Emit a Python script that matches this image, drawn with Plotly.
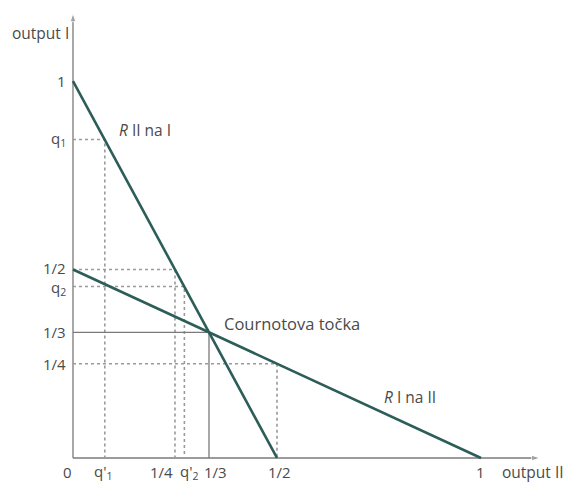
import plotly.graph_objects as go

# ---- data ----
# reaction curves
r2_on_1_x = [0.0, 0.5]    # R II na I : output II vs output I
r2_on_1_y = [1.0, 0.0]
r1_on_2_x = [0.0, 1.0]    # R I na II
r1_on_2_y = [0.5, 0.0]

cournot = 1 / 3
q1, q1p = 0.845, 0.078     # q1 and q'1
q2, q2p = 0.455, 0.273     # q2 and q'2
half, quarter = 0.5, 0.25

# axis extents (arrow tips)
y_axis_top = 1.18
x_axis_end = 1.145

# dotted guide segments
guides = [
    ([0, q1p, q1p], [q1, q1, 0]),
    ([0, quarter, quarter], [half, half, 0]),
    ([0, q2p, q2p], [q2, q2, 0]),
    ([0, half, half], [quarter, quarter, 0]),
]

y_tick_vals = [1, q1, half, q2, cournot, quarter]
y_tick_text = ["1", "q<sub>1</sub>", "1/2", "q<sub>2</sub>", "1/3", "1/4"]
y_tick_shift = [0, 0, 2, -2, 0, 0]
x_tick_vals = [0, q1p, quarter, q2p, cournot, half, 1]
x_tick_text = ["0", "q'<sub>1</sub>", "1/4", "q'<sub>2</sub>", "1/3", "1/2", "1"]
x_tick_shift = [-5, -2, -13, 5, 7, 3, 0]

LINE = "#2d5d58"
GRAY = "#7a7a7a"
DOT = "#9a9a9a"
TXT = "#4a4a4a"
FONT = "Open Sans"

fig = go.Figure()

# axes with arrowheads
for ax_x, ax_y in (([0, 0], [0, y_axis_top]), ([0, x_axis_end], [0, 0])):
    fig.add_trace(go.Scatter(x=ax_x, y=ax_y, mode="lines+markers",
                             line=dict(color=GRAY, width=1.3),
                             marker=dict(symbol=["circle", "arrow"], size=[0, 9],
                                         angleref="previous", color=GRAY),
                             hoverinfo="skip", showlegend=False))

for gx, gy in guides:
    fig.add_trace(go.Scatter(x=gx, y=gy, mode="lines",
                             line=dict(color=DOT, width=1.6, dash="dot"),
                             hoverinfo="skip", showlegend=False))

fig.add_trace(go.Scatter(x=[0, cournot, cournot], y=[cournot, cournot, 0], mode="lines",
                         line=dict(color=GRAY, width=1.3), hoverinfo="skip", showlegend=False))

fig.add_trace(go.Scatter(x=r2_on_1_x, y=r2_on_1_y, mode="lines",
                         line=dict(color=LINE, width=2.6), showlegend=False))
fig.add_trace(go.Scatter(x=r1_on_2_x, y=r1_on_2_y, mode="lines",
                         line=dict(color=LINE, width=2.6), showlegend=False))

ann = []
for v, t, s in zip(y_tick_vals, y_tick_text, y_tick_shift):
    ann.append(dict(x=0, y=v, xref="x", yref="y", text=t, showarrow=False,
                    xanchor="right", yanchor="middle", xshift=-5, yshift=s,
                    font=dict(family=FONT, size=15, color=TXT)))
for v, t, s in zip(x_tick_vals, x_tick_text, x_tick_shift):
    ann.append(dict(x=v, y=0, xref="x", yref="y", text=t, showarrow=False,
                    xanchor="center", yanchor="middle", xshift=s, yshift=-14,
                    font=dict(family=FONT, size=15, color=TXT)))

ann.append(dict(x=0, y=1.127, xref="x", yref="y", text="output I", showarrow=False,
                xanchor="center", xshift=-32, font=dict(family=FONT, size=15.5, color=TXT)))
ann.append(dict(x=1.047, y=0, xref="x", yref="y", text="output II", showarrow=False,
                xanchor="left", yshift=-14, font=dict(family=FONT, size=15.5, color=TXT)))
ann.append(dict(x=0.108, y=0.87, xref="x", yref="y", text="<i>R</i> II na I", showarrow=False,
                xanchor="left", font=dict(family=FONT, size=15.5, color=TXT)))
ann.append(dict(x=cournot, y=cournot, xref="x", yref="y", text="Cournotova točka",
                showarrow=False, xanchor="left", xshift=13, yshift=9,
                font=dict(family=FONT, size=16.5, color=TXT)))
ann.append(dict(x=0.757, y=0.162, xref="x", yref="y", text="<i>R</i> I na II", showarrow=False,
                xanchor="left", font=dict(family=FONT, size=15.5, color=TXT)))

fig.update_layout(
    width=571, height=482,
    margin=dict(l=0, r=0, t=0, b=0),
    paper_bgcolor="white", plot_bgcolor="white",
    xaxis=dict(range=[-0.1789, 1.2206], visible=False, fixedrange=True),
    yaxis=dict(range=[-0.0637, 1.2149], visible=False, fixedrange=True),
    annotations=ann,
    showlegend=False,
)

fig.write_html("out.html", config={"displayModeBar": False},
               post_script="document.body.style.margin='0';document.body.style.overflow='hidden';")
